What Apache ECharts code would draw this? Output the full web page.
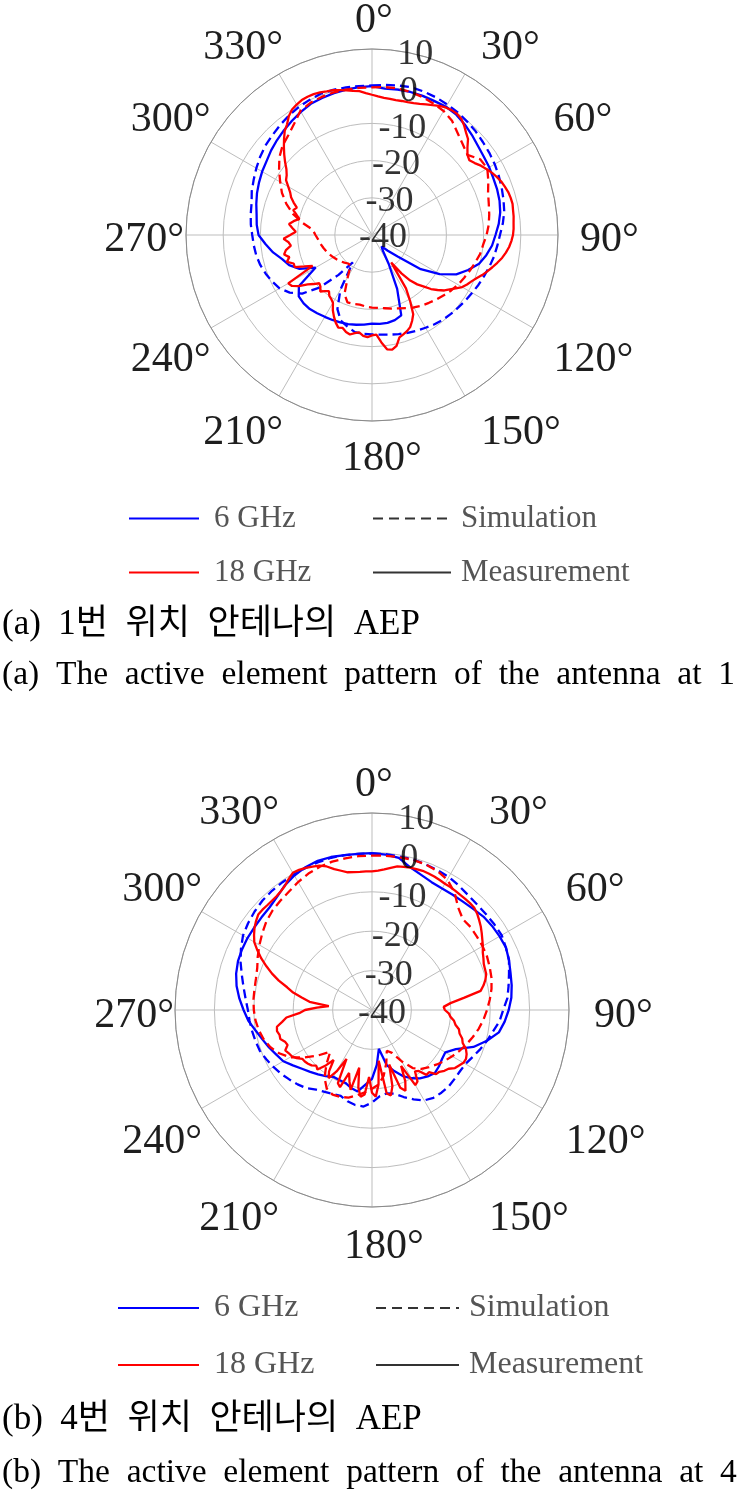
<!DOCTYPE html>
<html><head><meta charset="utf-8">
<script src="https://cdn.jsdelivr.net/npm/echarts@6/dist/echarts.min.js"></script>
<style>html,body{margin:0;padding:0;background:#fff}#c{width:739px;height:1491px}</style>
</head><body><div id="c"></div>
<script>
const ANGLES = [0,5,10,15,20,25,30,35,40,45,50,55,60,65,70,75,80,85,90,95,100,105,110,115,120,125,130,135,140,145,150,155,160,165,170,175,180,185,190,195,200,205,210,215,220,225,230,235,240,245,250,255,260,265,270,275,280,285,290,295,300,305,310,315,320,325,330,335,340,345,350,355];
const ANGLES_FINE = [0,2.5,5,7.5,10,12.5,15,17.5,20,22.5,25,27.5,30,32.5,35,37.5,40,42.5,45,47.5,50,52.5,55,57.5,
 60,62.5,65,67.5,70,72.5,75,77.5,80,82.5,85,87.5,90,92.5,95,97.5,100,102.5,105,107.5,110,112.5,115,117.5,
 120,122.5,125,127.5,130,132.5,135,137.5,140,142.5,145,147.5,150,152.5,155,157.5,160,162.5,165,167.5,170,172.5,175,177.5,
 180,182.5,185,187.5,190,192.5,195,197.5,200,202.5,205,207.5,210,212.5,215,217.5,220,222.5,225,227.5,230,232.5,235,237.5,
 240,242.5,245,247.5,250,252.5,255,257.5,260,262.5,265,267.5,270,272.5,275,277.5,280,282.5,285,287.5,290,292.5,295,297.5,
 300,302.5,305,307.5,310,312.5,315,317.5,320,322.5,325,327.5,330,332.5,335,337.5,340,342.5,345,347.5,350,352.5,355,357.5];
const RADIAL_TICKS = [10,0,-10,-20,-30,-40];

// (a) antenna at position 1  (dB, on ANGLES / ANGLES_FINE)
const c1_sim6 = [0.2,0.5,0.8,1.1,1.0,0.8,0.5,0.2,-0.2,-0.6,-1.1,-1.5,
 -1.9,-2.4,-2.9,-3.4,-3.9,-4.7,-5.6,-6.2,-6.7,-7.3,-7.9,-8.4,
 -8.9,-9.3,-9.7,-10,-10.3,-10.7,-11.2,-11.6,-12,-12.4,-12.8,-13.1,
 -13.3,-13.3,-13.5,-14.5,-15.5,-18,-23,-31,-26,-20,-15.5,-13,
 -11.3,-10.4,-9.6,-8.9,-8.4,-8.1,-7.8,-7.3,-6.9,-6.5,-5.6,-4.9,
 -4.1,-3.3,-2.6,-2.1,-1.5,-0.9,-0.4,0,0.4,0.4,0.3,0.2];
const c1_meas6 = [0,-0.5,-0.3,-0.2,-0.2,-0.3,-0.2,-0.5,-1.2,-2,-2.8,-3.3,
 -3.6,-4,-4.2,-4.5,-5,-5.8,-6.8,-7.6,-8.8,-10.2,-12.5,-15,
 -19,-24,-31,-34,-36,-35,-31,-24,-17,-16.3,-16,-16,
 -16.2,-15.8,-15.5,-15.2,-15,-14.8,-14.6,-14.3,-14,-14,-14.3,-16,
 -22.5,-18.5,-16.3,-15,-13,-11.3,-9.5,-8.9,-8.5,-7.8,-7.1,-6.5,
 -5.9,-5.4,-4.6,-3.9,-3.2,-2.5,-1.8,-1.1,-0.8,-0.5,-0.3,-0.1];
const c1_sim18 = [-0.3,-0.1,0,-0.2,-0.5,-1,-1.5,-2.5,-4.2,-5.5,-6.5,-4.5,
 -4.2,-5.5,-6.8,-7.5,-8,-8.5,-9.2,-10,-10.5,-11.3,-12,-12.7,
 -13.3,-14,-14.8,-15.5,-16.2,-16.8,-17.5,-18.3,-19,-19.5,-20,-20.3,
 -20.5,-20.7,-21,-20.8,-20.7,-22.5,-27,-30,-30,-29.5,-29,-28.5,
 -28,-27.5,-27,-26.5,-26,-25.5,-24.8,-24,-21,-18,-15.5,-13.3,
 -11.5,-9.5,-7.5,-6,-5,-3.5,-1.5,-0.8,-0.5,-0.3,-0.3,-0.3];
const c1_meas18 = [-2.3,-2.7,-3,-3.1,-3.2,-3.1,-3,-2.8,-2.5,-2,-1.5,-0.9,-0.4,-0.2,-0.2,-0.6,-1.5,-2.6,-3.5,-5.2,-6.5,-7,-6.3,-5.3,
 -4.5,-3.7,-3,-2.4,-2,-1.6,-1.4,-1.3,-1.5,-1.6,-1.8,-1.9,-2.1,-2.5,-3,-3.7,-4.5,-5.5,-6.5,-7.5,-8.5,-9.6,-10.5,-11.2,
 -12,-13.3,-14.5,-15.5,-17,-18.5,-20.5,-22,-24,-27,-31,-23,-19.5,-16,-14.5,-13.2,-12.5,-12,-11.5,-9.5,-8.7,-9,-11,-13.2,
 -13,-12.5,-12.8,-13.6,-13.2,-12.6,-13,-13.8,-13.5,-14.5,-15.8,-17.2,-19,-19.6,-20,-21,-20.3,-19.4,-20.4,-20.8,-19.5,-18.2,-16,-14.5,
 -14,-22,-20,-17.5,-17.6,-16,-17,-15.8,-16.5,-18,-17.5,-16.2,-18,-19.5,-18.5,-17.5,-18.6,-20,-19,-17.8,-18.5,-17.2,-16,-15.2,
 -14,-12.6,-12,-11,-9.5,-8,-6.5,-5,-3.5,-2.5,-1,0,0.5,0.9,1,1,0.8,0.5,0.3,-0.1,-0.5,-0.9,-1.2,-1.8];

// (b) antenna at position 4
const c2_sim6 = [-0.3,-0.3,-0.4,-0.4,-0.6,-0.8,-1,-1.5,-2,-2.2,-2.2,-2.1,
 -2,-2.5,-3,-4,-4.8,-5.5,-6.7,-7.5,-8.8,-9.8,-10.8,-11.8,
 -12.6,-12.8,-12.7,-12.5,-12.6,-12.8,-13.5,-15,-16.5,-18,-18.5,-18,
 -16.5,-15.4,-15.5,-16,-16.8,-16.5,-16,-15.3,-14.1,-13.3,-12.6,-11.8,
 -11.1,-10.4,-9.7,-9.4,-9.1,-8.8,-8.5,-7.8,-6.9,-5.8,-4.5,-3.3,
 -2.2,-1.6,-1.1,-0.7,-0.5,-0.4,-0.3,-0.2,-0.1,0,-0.1,-0.2];
const c2_meas6 = [-0.2,-0.4,-0.8,-2.5,-3.5,-4.2,-4.4,-4.3,-4.1,-3.7,-3.1,-2.8,
 -2.6,-2.5,-3,-3.6,-4,-4.5,-5.3,-6.2,-7.3,-9.8,-12.6,-16.5,
 -18.5,-18.3,-17.8,-17.4,-18,-18.8,-20,-21.5,-23.5,-25.5,-30,-26,
 -22.5,-21,-19,-19.5,-20.3,-20.4,-20.4,-19.5,-18.7,-17.8,-16.8,-15.5,
 -14,-13.2,-12.2,-11.2,-10,-8.5,-7.4,-6.2,-5.1,-4.3,-3.8,-3.6,
 -3.5,-3.5,-3.4,-3.2,-2.5,-1.4,-0.6,0,0.3,0.2,-0.1,-0.2];
const c2_sim18 = [-0.8,-0.7,-0.6,-0.5,-0.6,-1,-1.8,-3.5,-6,-7.4,-7.3,-7.5,
 -7.6,-7.8,-8.2,-8.6,-9.2,-10,-10.8,-11.6,-12.5,-13.5,-14.5,-15.5,
 -16.5,-17.5,-18.5,-19.5,-20.5,-22,-25,-28,-29,-26,-23,-21,
 -20,-19,-18,-17,-16.5,-16.3,-17,-19,-22,-25,-22,-19,
 -16,-14,-12.5,-11.5,-10.8,-10.3,-10,-9.8,-9.7,-9.5,-9,-8,
 -7,-6,-5,-4.3,-3.8,-3.3,-2.5,-1.8,-1.3,-1,-0.9,-0.8];
const c2_meas18 = [-4.8,-4.6,-4.2,-3.6,-3,-2.8,-2.6,-2.5,-2.4,-2.5,-2.6,-2.8,-3,-3,-3.1,-3.2,-3.2,-3.2,-3.3,-3.8,-4.5,-5.2,-6,-6.8,
 -7.5,-8.3,-8.8,-9.3,-9.5,-9.6,-10.2,-11,-12,-16.5,-20,-21.8,-21.5,-20.5,-20,-19,-18.5,-17.4,-17,-16,-15.5,-14.2,-13.5,-13.1,
 -13.2,-13.8,-14.3,-15.5,-16,-16.8,-17,-18.6,-18.5,-20.5,-21,-18.5,-18,-24,-20,-17.8,-19,-25.5,-20,-17.8,-18.5,-27,-21,-18,
 -19,-23,-18.5,-17.8,-20,-25,-19,-21,-23,-18.8,-19.5,-26,-22,-19.5,-21,-24,-21.5,-19.5,-20,-19.2,-18.8,-18.5,-18.4,-17.3,
 -16.5,-16.2,-15.7,-16.8,-16.5,-15.6,-15.7,-15.3,-15.5,-17,-18.2,-21.5,-23,-26,-29,-24,-22,-19.5,-17.7,-15.2,-13,-11,-9,-7.2,
 -5.5,-4.5,-3.6,-2.9,-2.3,-2.3,-2.4,-2.4,-2.3,-2,-1.5,-0.6,0.2,0.1,-0.2,-0.6,-1,-1.8,-3,-3.8,-4.5,-4.7,-4.8,-4.8];

const LEGEND_FREQ = ['6 GHz', '18 GHz'];
const LEGEND_TYPE = ['Simulation', 'Measurement'];
const CAPTIONS = [
  ['(a)  1번  위치  안테나의  AEP', '(a)  The  active  element  pattern  of  the  antenna  at  1'],
  ['(b)  4번  위치  안테나의  AEP', '(b)  The  active  element  pattern  of  the  antenna  at  4']
];

const BLUE = '#0000ff', RED = '#ff0000';
const SERIF = "'Liberation Serif', 'Times New Roman', serif";
const CAPFONT = "'Liberation Serif', 'Noto Sans CJK KR', serif";
const DASH = [9, 5];

function closed(angles, vals) {
  const d = angles.map((a, i) => [vals[i], a]);
  d.push([vals[0], 360]);
  return d;
}

const polar = [], angleAxis = [], radiusAxis = [], series = [];
const charts = [
  {c: [372, 235], R: 186, lc: [382, 240], margin: 12, off: [11, 3], topPad: 16,
   curves: [[ANGLES, c1_sim6], [ANGLES, c1_meas6], [ANGLES, c1_sim18], [ANGLES_FINE, c1_meas18]]},
  {c: [372, 1010], R: 197, lc: [384, 1016], margin: 13, off: [10, 4], topPad: 20,
   curves: [[ANGLES, c2_sim6], [ANGLES, c2_meas6], [ANGLES, c2_sim18], [ANGLES_FINE, c2_meas18]]}
];
charts.forEach((ch) => {
  const pi = polar.length;
  polar.push({center: ch.c, radius: ch.R});
  polar.push({center: ch.lc, radius: ch.R});
  angleAxis.push({polarIndex: pi, type: 'value', min: 0, max: 360, interval: 30, startAngle: 90, clockwise: true,
    axisLine: {show: true, lineStyle: {color: '#8a8a8a', width: 1}}, axisTick: {show: false}, axisLabel: {show: false},
    splitLine: {show: true, lineStyle: {color: '#bdbdbd', width: 1}}});
  angleAxis.push({polarIndex: pi + 1, type: 'value', min: 0, max: 360, interval: 30, startAngle: 90, clockwise: true,
    axisLine: {show: false}, axisTick: {show: false}, splitLine: {show: false},
    axisLabel: {show: true, margin: ch.margin,
      formatter: v => (v === 360 ? '' : (v === 0 ? '{t|' + v + '°}' : v + '°')),
      fontFamily: SERIF, fontSize: 42, color: '#1e1e1e',
      rich: {t: {fontFamily: SERIF, fontSize: 42, color: '#1e1e1e', padding: [0, ch.topPad, 0, 0]}}}});
  radiusAxis.push({polarIndex: pi, type: 'value', min: -40, max: 10, interval: 10,
    axisLine: {show: false}, axisTick: {show: false}, axisLabel: {show: false},
    splitLine: {show: true, lineStyle: {color: '#bdbdbd', width: 1}}});
  radiusAxis.push({polarIndex: pi + 1, type: 'value', min: 0, max: 1, show: false});
  const styles = [
    {color: BLUE, type: DASH}, {color: BLUE, type: 'solid'},
    {color: RED, type: DASH}, {color: RED, type: 'solid'}
  ];
  ch.curves.forEach((cv, j) => {
    series.push({type: 'line', coordinateSystem: 'polar', polarIndex: pi, data: closed(cv[0], cv[1]),
      symbol: 'none', smooth: false, silent: true, z: 3 + j,
      lineStyle: {color: styles[j].color, width: 2.3, type: styles[j].type}});
  });
  series.push({type: 'scatter', coordinateSystem: 'polar', polarIndex: pi, clip: false, silent: true, z: 10,
    data: RADIAL_TICKS.map(v => [v, 10]), symbolSize: 1, itemStyle: {color: 'rgba(0,0,0,0)'},
    label: {show: true, position: 'inside', offset: ch.off, formatter: p => String(p.value[0]),
      fontFamily: SERIF, fontSize: 36, color: '#000'}});
});
// legend-only series
series.push({name: LEGEND_FREQ[0], type: 'line', coordinateSystem: 'polar', polarIndex: 0, data: [], symbol: 'none', lineStyle: {color: BLUE, width: 3}, itemStyle: {color: BLUE}});
series.push({name: LEGEND_FREQ[1], type: 'line', coordinateSystem: 'polar', polarIndex: 0, data: [], symbol: 'none', lineStyle: {color: RED, width: 3}, itemStyle: {color: RED}});
series.push({name: LEGEND_TYPE[0], type: 'line', coordinateSystem: 'polar', polarIndex: 0, data: [], symbol: 'none', lineStyle: {color: '#333', width: 3, type: [10, 6]}, itemStyle: {color: '#333'}});
series.push({name: LEGEND_TYPE[1], type: 'line', coordinateSystem: 'polar', polarIndex: 0, data: [], symbol: 'none', lineStyle: {color: '#333', width: 3}, itemStyle: {color: '#333'}});

function leg(data, left, top, w, gap, fs, pad) {
  return {data, orient: 'vertical', left, top, itemWidth: w, itemHeight: 14, itemGap: gap, padding: 0,
    selectedMode: false, itemStyle: {opacity: 0},
    textStyle: {fontFamily: SERIF, fontSize: fs, color: '#555', padding: [0, 0, 0, pad]}};
}
const legend = [
  leg(LEGEND_FREQ, 128, 503, 70, 23, 31, 10),
  leg(LEGEND_TYPE, 372, 503, 78, 23, 31, 5),
  leg(LEGEND_FREQ, 117, 1292, 81, 25, 32, 10),
  leg(LEGEND_TYPE, 375, 1292, 83, 25, 32, 5)
];
const korStyle = {fontFamily: CAPFONT, fontSize: 35, fontWeight: 'normal', color: '#000'};
const engStyle = {fontFamily: CAPFONT, fontSize: 33.5, fontWeight: 'normal', color: '#000'};
const title = [
  {text: CAPTIONS[0][0], left: 2, top: 607, padding: 0, textStyle: korStyle},
  {text: CAPTIONS[0][1], left: 2, top: 658, padding: 0, textStyle: engStyle},
  {text: CAPTIONS[1][0], left: 2, top: 1402, padding: 0, textStyle: korStyle},
  {text: CAPTIONS[1][1], left: 2, top: 1456, padding: 0, textStyle: engStyle}
];

const chart = echarts.init(document.getElementById('c'), null, {renderer: 'canvas'});
chart.setOption({animation: false, backgroundColor: '#fff', title, legend, polar, angleAxis, radiusAxis, series});
</script></body></html>
